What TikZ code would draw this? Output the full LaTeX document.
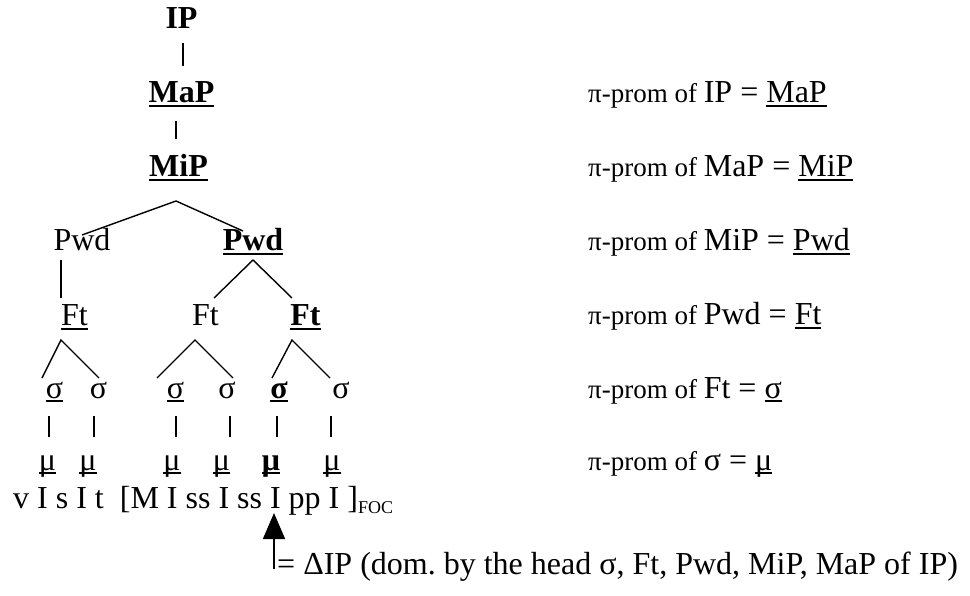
\documentclass[tikz,border=0pt]{standalone}
\usepackage{fontspec}
\setmainfont{Liberation Serif}
\usetikzlibrary{arrows.meta}
\frenchspacing

% underline drawn as a rule just below the baseline
\newcommand\ulin[1]{\setbox0\hbox{#1}\rlap{\rule[-4pt]{\wd0}{1.7pt}}\box0}
\newcommand\lgsize{\fontsize{32}{38}\selectfont}
\newcommand\smsize{\fontsize{27}{32}\selectfont}

\begin{document}
\begin{tikzpicture}[x=1pt,y=-1pt,
  lbl/.style={anchor=base, inner sep=0pt, font=\lgsize},
  blbl/.style={lbl, font=\lgsize\bfseries},
  note/.style={anchor=base west, inner sep=0pt, font=\lgsize},
  edge/.style={line width=1.4pt}]
\useasboundingbox (0,0) rectangle (970,596);

% prosodic hierarchy
\node[blbl] (ip)   at (181.5,29)  {IP};
\node[blbl] (map)  at (181.5,103) {\ulin{MaP}};
\node[blbl] (mip)  at (178.5,177) {\ulin{MiP}};
\node[lbl]  (pwdL) at (82,251)    {Pwd};
\node[blbl] (pwdR) at (253,251)   {\ulin{Pwd}};
\node[lbl]  (ftL)  at (74.5,326)  {\ulin{Ft}};
\node[lbl]  (ftM)  at (205.5,326) {Ft};
\node[blbl] (ftR)  at (305.5,326) {\ulin{Ft}};

\node[lbl]  (s1) at (54.5,398) {\ulin{σ}};
\node[lbl]  (s2) at (98.5,398) {σ};
\node[lbl]  (s3) at (175.5,398) {\ulin{σ}};
\node[lbl]  (s4) at (227,398) {σ};
\node[blbl] (s5) at (279,398) {\ulin{σ}};
\node[lbl]  (s6) at (341,398) {σ};

\node[lbl]  (m1) at (47.5,470) {\ulin{μ}};
\node[lbl]  (m2) at (88,470)   {\ulin{μ}};
\node[lbl]  (m3) at (172,470)  {\ulin{μ}};
\node[lbl]  (m4) at (221.5,470) {\ulin{μ}};
\node[blbl] (m5) at (271,470)  {\ulin{μ}};
\node[lbl]  (m6) at (332,470)  {\ulin{μ}};

% segmental string
\node[note] (seg) at (13,508) {v I s I t~~[M I ss I ss I pp I ]\raisebox{-5pt}{\fontsize{18}{20}\selectfont FOC}};

% tree branches
\draw[edge] ([shift={(1.5,14)}]ip.base) -- ([shift={(1.5,-37)}]map.base);
\draw[edge] ([shift={(-5.5,18)}]map.base) -- ([shift={(-2.5,-38)}]mip.base);
\draw[edge] ([shift={(-10,-20)}]pwdR.base) -- ([shift={(-2.5,24)}]mip.base) -- ([shift={(0,-16)}]pwdL.base);
\draw[edge] ([shift={(-21,9)}]pwdL.base) -- ([shift={(-13.5,-28)}]ftL.base);
\draw[edge] ([shift={(8.5,-28)}]ftM.base) -- ([shift={(0,9)}]pwdR.base) -- ([shift={(-13.5,-28)}]ftR.base);
\draw[edge] ([shift={(-12.5,-20)}]s1.base) -- ([shift={(-13.5,14)}]ftL.base) -- ([shift={(0.5,-20)}]s2.base);
\draw[edge] ([shift={(-18.5,-20)}]s3.base) -- ([shift={(-10.5,14)}]ftM.base) -- ([shift={(6,-20)}]s4.base);
\draw[edge] ([shift={(-7,-20)}]s5.base) -- ([shift={(-13.5,14)}]ftR.base) -- ([shift={(-11,-20)}]s6.base);

% syllable-to-mora links
\draw[edge] ([shift={(-5.5,18)}]s1.base) -- ([shift={(1.5,-33)}]m1.base);
\draw[edge] ([shift={(-4.5,18)}]s2.base) -- ([shift={(6,-33)}]m2.base);
\draw[edge] ([shift={(0.5,18)}]s3.base) -- ([shift={(4,-33)}]m3.base);
\draw[edge] ([shift={(3,18)}]s4.base) -- ([shift={(8.5,-33)}]m4.base);
\draw[edge] ([shift={(-2,18)}]s5.base) -- ([shift={(6,-33)}]m5.base);
\draw[edge] ([shift={(-10,18)}]s6.base) -- ([shift={(-1,-33)}]m6.base);

% pi-prominence statements
\node[note] (r1) at (588,103) {{\smsize π-prom of }IP = \ulin{MaP}};
\node[note] (r2) at (588,177) {{\smsize π-prom of }MaP = \ulin{MiP}};
\node[note] (r3) at (588,251) {{\smsize π-prom of }MiP = \ulin{Pwd}};
\node[note] (r4) at (588,325) {{\smsize π-prom of }Pwd = \ulin{Ft}};
\node[note] (r5) at (588,398) {{\smsize π-prom of }Ft = \ulin{σ}};
\node[note] (r6) at (588,470) {{\smsize π-prom of }σ = \ulin{μ}};

% head marker
\node[note] (dip) at (277,574) {= ΔIP (dom. by the head σ, Ft, Pwd, MiP, MaP of IP)};
\coordinate (atip) at (274,513);
\coordinate (afoot) at (274,569);
\draw[line width=1.5pt, -{Triangle[length=26pt,width=22pt]}] (afoot) -- (atip);
\end{tikzpicture}
\end{document}
